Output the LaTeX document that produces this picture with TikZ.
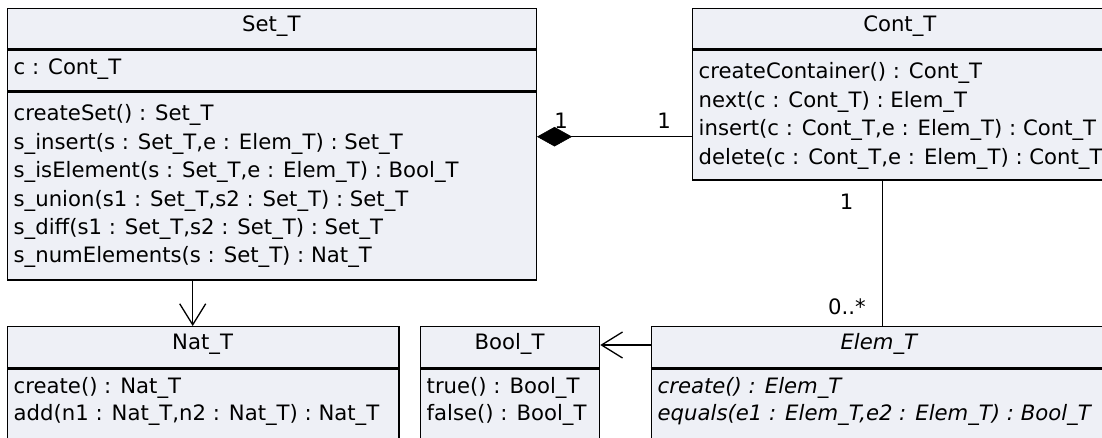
\documentclass[tikz,border=0pt]{standalone}
\usepackage{fontspec}
\setmainfont{DejaVu Sans}
\usetikzlibrary{arrows.meta}
\definecolor{clsfill}{RGB}{238,240,246}
\tikzset{
  cls/.style={draw=black, fill=clsfill, line width=1.3pt, inner sep=0pt, anchor=north west},
  sepline/.style={line width=3pt},
  txt/.style={inner sep=0pt, anchor=base west, font=\fontsize{21.2}{25}\selectfont},
  ttl/.style={inner sep=0pt, anchor=base, font=\fontsize{21.2}{25}\selectfont},
  mult/.style={inner sep=0pt, font=\fontsize{21.2}{25}\selectfont},
  conn/.style={line width=1.3pt},
  opentip/.style={conn, -{Straight Barb[length=21pt, width=26pt, line width=1.3pt]}},
  comptip/.style={conn, -{Diamond[length=35pt, width=19.5pt, fill=black, line width=0.5pt]}},
}
\begin{document}
\begin{tikzpicture}[x=1pt, y=-1pt]
\useasboundingbox (0,0) rectangle (1102,438);
\clip (0,0) rectangle (1102,438);

% ---------- Set_T ----------
\node[cls, minimum width=528.7pt, minimum height=271.3pt] (set) at (7,8) {};
\draw[sepline] (set.west |- 0,50) -- (set.east |- 0,50);
\draw[sepline] (set.west |- 0,92) -- (set.east |- 0,92);
\node[ttl] (setname) at (271.3,31.5) {Set\_T};
\node[txt] (seta1) at (13.5,74.5) {c : Cont\_T};
\node[txt] (setm1) at (13.5,121) {createSet() : Set\_T};
\node[txt] (setm2) at (13.5,149.5) {s\_insert(s : Set\_T,e : Elem\_T) : Set\_T};
\node[txt] (setm3) at (13.5,178) {s\_isElement(s : Set\_T,e : Elem\_T) : Bool\_T};
\node[txt] (setm4) at (13.5,206.3) {s\_union(s1 : Set\_T,s2 : Set\_T) : Set\_T};
\node[txt] (setm5) at (13.5,234.5) {s\_diff(s1 : Set\_T,s2 : Set\_T) : Set\_T};
\node[txt] (setm6) at (13.5,262.5) {s\_numElements(s : Set\_T) : Nat\_T};

% ---------- Cont_T ----------
\node[cls, minimum width=416.3pt, minimum height=171.3pt] (cont) at (691.7,8) {};
\draw[sepline] (cont.west |- 0,50) -- (cont.east |- 0,50);
\node[ttl] (contname) at (899.8,31.5) {Cont\_T};
\node[txt] (contm1) at (698.5,79) {createContainer() : Cont\_T};
\node[txt] (contm2) at (698.5,107.5) {next(c : Cont\_T) : Elem\_T};
\node[txt] (contm3) at (698.5,136) {insert(c : Cont\_T,e : Elem\_T) : Cont\_T};
\node[txt] (contm4) at (698.5,164.3) {delete(c : Cont\_T,e : Elem\_T) : Cont\_T};

% ---------- Nat_T ----------
\node[cls, minimum width=391.3pt, minimum height=140pt] (nat) at (7,326) {};
\draw[sepline] (nat.west |- 0,368) -- (nat.east |- 0,368);
\node[ttl] (natname) at (202.6,349) {Nat\_T};
\node[txt] (natm1) at (13.5,393) {create() : Nat\_T};
\node[txt] (natm2) at (13.5,420.5) {add(n1 : Nat\_T,n2 : Nat\_T) : Nat\_T};

% ---------- Bool_T ----------
\node[cls, minimum width=179pt, minimum height=140pt] (bool) at (420,326) {};
\draw[sepline] (bool.west |- 0,368) -- (bool.east |- 0,368);
\node[ttl] (boolname) at (509.5,349) {Bool\_T};
\node[txt] (boolm1) at (426.5,393) {true() : Bool\_T};
\node[txt] (boolm2) at (426.5,420.5) {false() : Bool\_T};

% ---------- Elem_T (abstract) ----------
\node[cls, minimum width=456.3pt, minimum height=140pt] (elem) at (650.7,326) {};
\draw[sepline] (elem.west |- 0,368) -- (elem.east |- 0,368);
\node[ttl, font=\fontsize{21.2}{25}\selectfont\itshape] (elemname) at (878.8,349) {Elem\_T};
\node[txt, font=\fontsize{21.2}{25}\selectfont\itshape] (elemm1) at (657.5,393) {create() : Elem\_T};
\node[txt, font=\fontsize{21.2}{25}\selectfont\itshape] (elemm2) at (657.5,420.5) {equals(e1 : Elem\_T,e2 : Elem\_T) : Bool\_T};

% ---------- connectors ----------
\coordinate (compy) at (0,136.7);
\coordinate (natx) at (192.7,0);
\coordinate (elemx) at (882.7,0);
\coordinate (booly) at (0,345);

% composition Set_T <>-- Cont_T
\draw[comptip] (cont.west |- compy) -- (set.east |- compy);
\node[mult] (m1) at (561,120.7) {1};
\node[mult] (m2) at (664,120.7) {1};

% Set_T uses Nat_T
\draw[opentip] (set.south -| natx) -- (nat.north -| natx);

% Elem_T uses Bool_T
\draw[opentip] (elem.west |- booly) -- (bool.east |- booly);

% Cont_T holds Elem_T
\draw[conn] (cont.south -| elemx) -- (elem.north -| elemx);
\node[mult] (m3) at (846.6,201.7) {1};
\node[mult, anchor=east] (m4) at (866,306.7) {0..*};
\end{tikzpicture}
\end{document}
